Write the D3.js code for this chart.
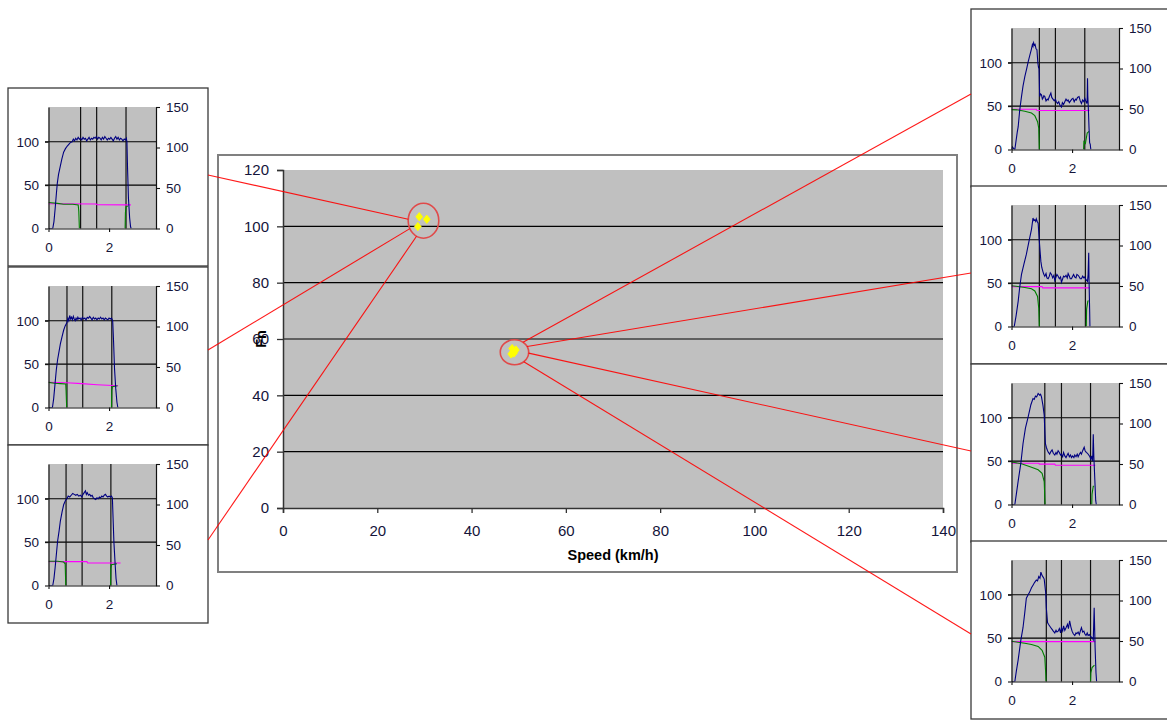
<!DOCTYPE html>
<html><head><meta charset="utf-8">
<script src="https://cdn.jsdelivr.net/npm/d3@7"></script>
<style>body{margin:0;background:#fff}svg{display:block;font-family:"Liberation Sans",Arial,sans-serif}</style>
</head><body><svg id="c" width="1167" height="726"></svg>
<script>
// ---------- main chart data ----------
const speedTicks = [0, 20, 40, 60, 80, 100, 120, 140];
const fnTicks = [0, 20, 40, 60, 80, 100, 120];
const clusterA = [[28.9, 103.4], [30.5, 102.5], [28.6, 99.9]];
const clusterB = [[48.6, 56.6], [49.4, 56.1], [48.4, 54.7], [49.0, 55.0]];
const calloutCenters = [[29.8, 102], [49.1, 55.3]];

// ---------- inset data (time s, value) ----------
const timeTicks = [0, 2];
const leftTicks = [0, 50, 100];
const rightTicks = [0, 50, 100, 150];

const blueL1 = [[0,0],[0.14,0],[0.18,8],[0.22,23],[0.26,40],[0.29,52],[0.33,62],[0.39,72],[0.44,80],[0.5,88],[0.56,92],[0.62,95],[0.67,97],[0.72,99],[0.78,100],[0.82,103],[0.86,101],[0.9,104],[0.94,102],[0.98,105],[1.02,103],[1.06,104],[1.1,102],[1.14,105],[1.18,103],[1.22,104],[1.26,101],[1.3,103],[1.34,105],[1.38,102],[1.42,104],[1.46,103],[1.5,105],[1.54,104],[1.58,106],[1.62,103],[1.66,105],[1.7,104],[1.74,102],[1.78,105],[1.82,103],[1.86,106],[1.9,104],[1.94,102],[1.98,104],[2.02,103],[2.06,105],[2.1,103],[2.14,101],[2.18,104],[2.22,106],[2.26,103],[2.3,105],[2.34,102],[2.38,104],[2.42,103],[2.46,101],[2.5,103],[2.54,102],[2.57,104],[2.59,100],[2.61,70],[2.64,35],[2.68,12],[2.71,2],[2.73,0]];
const greenL1 = [[0,30],[0.3,29],[0.5,28],[0.8,28],[0.98,27],[1.0,20],[1.02,0],null,[2.53,0],[2.54,18],[2.56,25],[2.62,26]];
const pinkL1 = [[0,28.5],[1.58,28.2],[1.6,27.5],[2.72,27.2]];
const eventsL1 = [1.06, 1.59, 2.56];

const blueL2 = [[0,0],[0.13,0],[0.17,10],[0.22,29],[0.26,44],[0.3,55],[0.35,65],[0.39,73],[0.45,82],[0.5,89],[0.55,94],[0.61,98],[0.64,103],[0.67,100],[0.7,106],[0.73,102],[0.76,104],[0.79,101],[0.82,105],[0.85,102],[0.88,100],[0.91,103],[0.94,101],[0.97,104],[1.0,102],[1.04,103],[1.08,101],[1.12,104],[1.16,102],[1.2,103],[1.24,101],[1.28,104],[1.32,103],[1.36,105],[1.4,103],[1.44,101],[1.48,104],[1.52,102],[1.56,103],[1.6,101],[1.64,103],[1.68,102],[1.72,104],[1.76,102],[1.8,103],[1.84,101],[1.88,103],[1.92,102],[1.96,101],[2.0,103],[2.04,102],[2.08,103],[2.12,100],[2.15,75],[2.18,45],[2.22,22],[2.26,6],[2.29,0]];
const greenL2 = [[0,29],[0.2,28],[0.4,27.5],[0.57,27],[0.58,20],[0.6,0],null,[2.08,0],[2.09,20],[2.11,24],[2.28,25]];
const pinkL2 = [[0,29],[0.6,28.5],[1.1,27.5],[1.6,26.3],[2.3,25]];
const eventsL2 = [0.61, 1.13, 2.09];

const blueL3 = [[0,0],[0.14,0],[0.18,8],[0.22,21],[0.26,36],[0.3,51],[0.35,63],[0.39,74],[0.45,85],[0.5,93],[0.56,98],[0.61,100],[0.65,103],[0.7,102],[0.75,104],[0.8,106],[0.85,105],[0.9,104],[0.95,105],[1.0,103],[1.05,104],[1.1,102],[1.14,105],[1.18,107],[1.22,109],[1.25,105],[1.28,107],[1.32,104],[1.36,105],[1.4,103],[1.44,104],[1.48,101],[1.52,100],[1.56,99],[1.6,101],[1.64,100],[1.68,102],[1.72,101],[1.76,103],[1.8,102],[1.84,104],[1.88,105],[1.92,103],[1.96,102],[2.0,103],[2.04,102],[2.08,103],[2.11,101],[2.13,80],[2.16,50],[2.2,25],[2.23,8],[2.26,0]];
const greenL3 = [[0,28],[0.3,28],[0.5,27],[0.55,25],[0.57,0],null,[2.05,0],[2.06,20],[2.08,24],[2.26,25]];
const pinkL3 = [[0,27.5],[1.27,27.5],[1.29,26],[2.38,26]];
const eventsL3 = [0.58, 1.11, 2.06];

const blueR1 = [[0,0],[0.03,3],[0.07,1],[0.11,0],[0.15,10],[0.19,20],[0.22,26],[0.27,45],[0.33,61],[0.38,73],[0.44,84],[0.5,93],[0.55,101],[0.6,108],[0.66,116],[0.69,121],[0.71,119],[0.73,123],[0.76,120],[0.78,121],[0.81,116],[0.84,115],[0.87,100],[0.89,95],[0.91,93],[0.93,61],[0.96,64],[0.99,63],[1.02,58],[1.04,59],[1.07,62],[1.1,61],[1.14,56],[1.18,58],[1.21,57],[1.25,61],[1.3,65],[1.33,60],[1.37,58],[1.41,56],[1.45,58],[1.48,55],[1.52,53],[1.56,55],[1.6,51],[1.65,49],[1.68,54],[1.72,52],[1.76,55],[1.8,58],[1.84,56],[1.87,57],[1.91,54],[1.95,56],[1.99,58],[2.03,59],[2.07,55],[2.11,58],[2.14,57],[2.18,60],[2.23,61],[2.27,56],[2.31,53],[2.35,57],[2.39,55],[2.42,59],[2.45,56],[2.49,53],[2.5,60],[2.51,82],[2.52,62],[2.54,45],[2.56,25],[2.58,8],[2.6,6],[2.62,0]];
const greenR1 = [[0,46],[0.22,45.6],[0.44,44],[0.66,42],[0.77,39],[0.86,32],[0.9,24.5],[0.92,0],null,[2.38,0],[2.39,9],[2.44,7],[2.5,19],[2.56,21]];
const pinkR1 = [[0,46.4],[0.82,46.4],[0.84,45],[2.58,45]];
const eventsR1 = [0.92, 1.45, 2.42];

const blueR2 = [[0,0],[0.09,0],[0.15,12],[0.22,29],[0.27,45],[0.33,60],[0.41,72],[0.49,83],[0.57,97],[0.66,112],[0.71,125],[0.74,122],[0.77,123],[0.8,121],[0.82,124],[0.85,121],[0.88,119],[0.92,98],[0.97,75],[1.0,68],[1.04,63],[1.07,60],[1.1,58],[1.14,61],[1.17,56],[1.21,55],[1.25,58],[1.28,62],[1.32,60],[1.36,56],[1.4,59],[1.43,53],[1.47,57],[1.5,60],[1.54,58],[1.58,55],[1.62,57],[1.65,51],[1.69,55],[1.72,58],[1.76,57],[1.8,59],[1.84,56],[1.87,61],[1.91,58],[1.94,55],[1.98,55],[2.02,58],[2.05,60],[2.09,57],[2.13,56],[2.16,60],[2.2,59],[2.24,57],[2.27,55],[2.31,55],[2.35,58],[2.39,56],[2.42,57],[2.46,54],[2.51,52],[2.53,60],[2.55,85],[2.56,55],[2.58,20],[2.59,0]];
const greenR2 = [[0,47],[0.44,45],[0.66,43.5],[0.77,41],[0.86,34.6],[0.9,21],[0.92,0],null,[2.47,0],[2.48,20],[2.52,29],[2.54,30]];
const pinkR2 = [[0,46],[1.01,46],[1.03,44.5],[2.58,44.5]];
const eventsR2 = [0.92, 1.45, 2.44];

const blueR3 = [[0,0],[0.11,0],[0.16,12],[0.22,27],[0.31,48],[0.38,70],[0.46,88],[0.55,101],[0.64,115],[0.71,122],[0.75,121],[0.79,125],[0.83,124],[0.88,128],[0.93,126],[0.96,127],[0.99,124],[1.04,114],[1.08,103],[1.1,85],[1.12,70],[1.15,66],[1.19,62],[1.22,60],[1.26,58],[1.3,61],[1.34,63],[1.38,59],[1.43,57],[1.47,60],[1.5,58],[1.54,62],[1.58,60],[1.62,57],[1.65,58],[1.69,55],[1.72,60],[1.76,56],[1.8,54],[1.84,57],[1.87,59],[1.91,55],[1.95,57],[1.98,54],[2.02,56],[2.06,54],[2.09,57],[2.13,55],[2.17,58],[2.2,55],[2.24,58],[2.28,60],[2.31,58],[2.35,62],[2.4,66],[2.43,62],[2.47,60],[2.51,59],[2.55,57],[2.59,55],[2.62,52],[2.65,56],[2.68,50],[2.7,81],[2.72,55],[2.75,30],[2.78,5],[2.8,0]];
const greenR3 = [[0,49],[0.33,47],[0.66,43],[0.88,40],[1.01,36],[1.08,26.5],[1.1,7],[1.11,0],null,[2.65,0],[2.66,12],[2.7,21],[2.73,21]];
const pinkR3 = [[0,47.6],[0.9,47.6],[0.92,46.5],[1.43,46.5],[1.45,45.3],[2.77,45.3]];
const eventsR3 = [1.10, 1.65, 2.61];

const blueR4 = [[0,0],[0.11,0],[0.16,12],[0.22,25],[0.31,48],[0.38,62],[0.44,80],[0.49,96],[0.55,100],[0.6,103],[0.66,108],[0.71,111],[0.76,114],[0.82,117],[0.86,116],[0.9,121],[0.94,119],[0.97,126],[1.0,123],[1.01,122],[1.05,120],[1.08,118],[1.13,102],[1.15,85],[1.19,68],[1.22,66],[1.26,64],[1.3,62],[1.34,60],[1.38,58],[1.43,56],[1.47,59],[1.5,57],[1.54,58],[1.58,61],[1.62,56],[1.65,62],[1.69,58],[1.72,64],[1.76,59],[1.8,62],[1.85,66],[1.88,61],[1.92,70],[1.96,63],[2.0,58],[2.04,55],[2.09,53],[2.13,56],[2.16,55],[2.2,57],[2.24,54],[2.28,59],[2.31,62],[2.35,57],[2.39,58],[2.42,55],[2.46,53],[2.5,56],[2.53,53],[2.57,54],[2.61,52],[2.64,51],[2.67,50],[2.7,48],[2.73,85],[2.76,40],[2.79,10],[2.81,0]];
const greenR4 = [[0,46.4],[0.44,44],[0.66,42.6],[0.88,40.4],[1.01,36],[1.1,28],[1.13,9],[1.14,0],null,[2.61,0],[2.62,10],[2.66,16],[2.74,19]];
const pinkR4 = [[0,46],[2.77,46]];
const eventsR4 = [1.15, 1.65, 2.61];

// ---------- drawing ----------
const svg = d3.select('#c');
svg.append('rect').attr('width', 1167).attr('height', 726).attr('fill', '#fff');
const TXT = '#14143a';

// main chart
const M = {l: 283, r: 943, t: 170, b: 508};
const xMain = d3.scaleLinear().domain([0, 140]).range([M.l, M.r]);
const yMain = d3.scaleLinear().domain([0, 120]).range([M.b, M.t]);
const main = svg.append('g');
main.append('rect').attr('x', 218).attr('y', 155).attr('width', 739).attr('height', 417)
  .attr('fill', '#fff').attr('stroke', '#808080').attr('stroke-width', 2);
main.append('rect').attr('x', M.l).attr('y', M.t).attr('width', M.r - M.l).attr('height', M.b - M.t).attr('fill', '#c0c0c0');
main.selectAll('.gl').data(fnTicks.filter(d => d > 0 && d < 120)).join('line')
  .attr('x1', M.l).attr('x2', M.r).attr('y1', d => yMain(d)).attr('y2', d => yMain(d))
  .attr('stroke', '#000').attr('stroke-width', 1.2);
const yAx = main.append('g').attr('transform', `translate(${M.l},0)`)
  .call(d3.axisLeft(yMain).tickValues(fnTicks).tickSize(6).tickPadding(8));
const xAx = main.append('g').attr('transform', `translate(0,${M.b})`)
  .call(d3.axisBottom(xMain).tickValues(speedTicks).tickSize(5).tickPadding(12));
[yAx, xAx].forEach(a => {
  a.select('.domain').attr('stroke', '#333').attr('stroke-width', 1.5);
  a.selectAll('.tick line').attr('stroke', '#333').attr('stroke-width', 1.3);
  a.selectAll('.tick text').attr('fill', TXT).attr('font-size', 15).attr('font-family', '"Liberation Sans",Arial,sans-serif');
});
main.append('text').attr('x', (M.l + M.r) / 2).attr('y', 560).attr('text-anchor', 'middle')
  .attr('font-weight', 'bold').attr('font-size', 14.5).attr('fill', '#000').text('Speed (km/h)');
main.append('text').attr('transform', `translate(266,${(M.t + M.b) / 2}) rotate(-90)`).attr('text-anchor', 'middle')
  .attr('font-weight', 'bold').attr('font-size', 14.5).attr('fill', '#000').text('Fn');

function diamond(d) {
  const cx = xMain(d[0]), cy = yMain(d[1]), w = 3.4, h = 4.2;
  return `M${cx},${cy - h}L${cx + w},${cy}L${cx},${cy + h}L${cx - w},${cy}Z`;
}
main.selectAll('.pt').data(clusterA.concat(clusterB)).join('path')
  .attr('d', diamond).attr('fill', '#ffff00').attr('stroke', '#ffff00').attr('stroke-width', 0.8);

// insets
const BW = 200, BH = 178;
const insets = [
  {x: 8, y: 88, blue: blueL1, green: greenL1, pink: pinkL1, ev: eventsL1, anchor: [208, 175], c: 0, ang: 185},
  {x: 8, y: 267, blue: blueL2, green: greenL2, pink: pinkL2, ev: eventsL2, anchor: [208, 350], c: 0, ang: 153},
  {x: 8, y: 445, blue: blueL3, green: greenL3, pink: pinkL3, ev: eventsL3, anchor: [208, 540], c: 0, ang: 117},
  {x: 971, y: 9, blue: blueR1, green: greenR1, pink: pinkR1, ev: eventsR1, anchor: [971, 94], c: 1, ang: -53},
  {x: 971, y: 186, blue: blueR2, green: greenR2, pink: pinkR2, ev: eventsR2, anchor: [971, 273], c: 1, ang: -27},
  {x: 971, y: 364, blue: blueR3, green: greenR3, pink: pinkR3, ev: eventsR3, anchor: [971, 451], c: 1, ang: 4},
  {x: 971, y: 541, blue: blueR4, green: greenR4, pink: pinkR4, ev: eventsR4, anchor: [971, 634], c: 1, ang: 49}
];

insets.forEach((s, i) => {
  const g = svg.append('g').attr('transform', `translate(${s.x},${s.y})`);
  g.append('rect').attr('x', 0).attr('y', 0).attr('width', BW).attr('height', BH)
    .attr('fill', '#fff').attr('stroke', '#3a3a3a').attr('stroke-width', 1.3);
  const px = 40.5, py = 19, pw = 107.5, ph = 121.5;
  const x = d3.scaleLinear().domain([0, 3.55]).range([px, px + pw]);
  const yL = d3.scaleLinear().domain([0, 140]).range([py + ph, py]);
  const yR = d3.scaleLinear().domain([0, 150]).range([py + ph, py]);
  g.append('rect').attr('x', px).attr('y', py).attr('width', pw).attr('height', ph).attr('fill', '#c0c0c0');
  g.selectAll('.gl').data(leftTicks.filter(d => d > 0)).join('line')
    .attr('x1', px - 3.5).attr('x2', px + pw).attr('y1', d => yL(d)).attr('y2', d => yL(d))
    .attr('stroke', '#000').attr('stroke-width', 1.1);
  g.selectAll('.ev').data(s.ev).join('line')
    .attr('x1', d => x(d)).attr('x2', d => x(d)).attr('y1', py).attr('y2', py + ph)
    .attr('stroke', '#111').attr('stroke-width', 1.2);
  const cid = 'clip' + i;
  g.append('clipPath').attr('id', cid).append('rect').attr('x', px).attr('y', py - 2).attr('width', pw).attr('height', ph + 2);
  const line = d3.line().defined(d => d !== null).x(d => x(d[0])).y(d => yL(d[1]));
  const sg = g.append('g').attr('clip-path', `url(#${cid})`);
  sg.append('path').attr('d', line(s.pink)).attr('fill', 'none').attr('stroke', '#ff00ff').attr('stroke-width', 1.1);
  sg.append('path').attr('d', line(s.green)).attr('fill', 'none').attr('stroke', '#008000').attr('stroke-width', 1.1);
  sg.append('path').attr('d', line(s.blue)).attr('fill', 'none').attr('stroke', '#000080').attr('stroke-width', 1.1);
  // axes
  const ax = (sel) => {
    sel.select('.domain').attr('stroke', '#111').attr('stroke-width', 1.2);
    sel.selectAll('.tick line').attr('stroke', '#111').attr('stroke-width', 1.1);
    sel.selectAll('.tick text').attr('fill', TXT).attr('font-size', 13.5).attr('font-family', '"Liberation Sans",Arial,sans-serif');
  };
  g.append('g').attr('transform', `translate(${px},0)`)
    .call(d3.axisLeft(yL).tickValues(leftTicks).tickSize(3.5).tickSizeOuter(0).tickPadding(6)).call(ax);
  g.append('g').attr('transform', `translate(${px + pw},0)`)
    .call(d3.axisRight(yR).tickValues(rightTicks).tickSize(4).tickSizeOuter(0).tickPadding(6)).call(ax);
  g.append('g').attr('transform', `translate(0,${py + ph})`)
    .call(d3.axisBottom(x).tickValues(timeTicks).tickFormat(d3.format('d')).tickSize(3.5).tickSizeOuter(0).tickPadding(10)).call(ax);
});

// callouts
const calloutR = [[15.3, 17.5], [14.2, 12.5]];
const cg = svg.append('g');
calloutCenters.forEach((c, i) => {
  cg.append('ellipse').attr('cx', xMain(c[0])).attr('cy', yMain(c[1]))
    .attr('rx', calloutR[i][0]).attr('ry', calloutR[i][1])
    .attr('fill', 'none').attr('stroke', '#e04a4a').attr('stroke-width', 1.6);
});
insets.forEach(s => {
  const c = calloutCenters[s.c], r = calloutR[s.c], a = s.ang * Math.PI / 180;
  const ex = xMain(c[0]) + r[0] * Math.cos(a), ey = yMain(c[1]) + r[1] * Math.sin(a);
  cg.append('line').attr('x1', s.anchor[0]).attr('y1', s.anchor[1]).attr('x2', ex).attr('y2', ey)
    .attr('stroke', '#ff0000').attr('stroke-width', 1.1).attr('stroke-opacity', 0.9);
});
</script></body></html>
